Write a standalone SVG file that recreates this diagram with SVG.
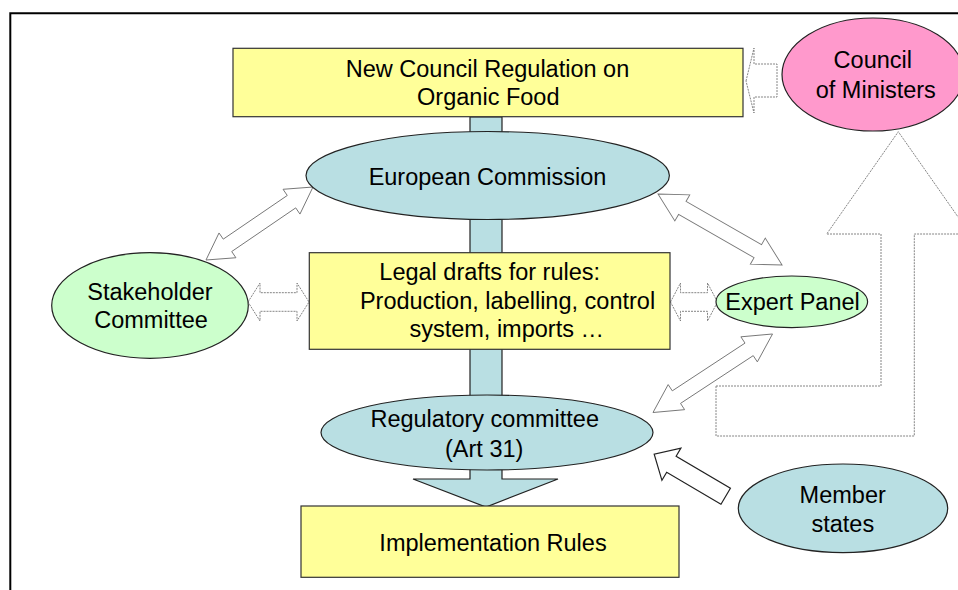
<svg xmlns="http://www.w3.org/2000/svg" width="958" height="590" viewBox="0 0 958 590">
<style>
  text { font-family: "Liberation Sans", Arial, sans-serif; font-size: 23.5px; fill: #000; text-anchor: middle; }
  .yel { fill: #FFFF99; stroke: #333; stroke-width: 1.2; }
  .blue { fill: #B9DFE3; stroke: #222; stroke-width: 1.2; }
  .green { fill: #CCFFCC; stroke: #222; stroke-width: 1.2; }
  .pink { fill: #FF99CC; stroke: #222; stroke-width: 1.2; }
  .dbl { fill: #fff; stroke: #777; stroke-width: 0.9; }
  .dash { fill: #fff; stroke: #777; stroke-width: 0.9; stroke-dasharray: 2 1; }
  .solid { fill: #fff; stroke: #222; stroke-width: 1.2; }
</style>
<rect x="0" y="0" width="958" height="590" fill="#fff"/>
<path d="M10.3,592 V13.2 H960" fill="none" stroke="#000" stroke-width="2"/>

<g id="connectors">
  <path id="main-flow" class="blue" d="M470,117 V479 H413 L486,507 L558,479 H502 V117 Z"/>
  <path id="council-to-regulation" class="dash" d="M746,81 L754,48 L754,64 L777,64 L777,97 L754,97 L754,113 Z"/>
  <path id="member-states-to-council" class="dash" d="M716,386 L881,386 L881,234 L826.7,234 L898.3,131.7 L970,234 L914.3,234 L914.3,436 L716,436 Z"/>
  <path id="stakeholder-commission" class="dbl" transform="translate(206,260) rotate(-34.3)" d="M0,0 L26,-15 L26,-7.5 L103.5,-7.5 L103.5,-15 L129.5,0 L103.5,15 L103.5,7.5 L26,7.5 L26,15 Z"/>
  <path id="stakeholder-drafts" class="dash" transform="translate(248,302)" d="M0,0 L12,-19 L12,-9.3 L49,-9.3 L49,-19 L61,0 L49,19 L49,9.3 L12,9.3 L12,19 Z"/>
  <path id="drafts-expert" class="dash" transform="translate(670.5,302)" d="M0,0 L10,-19 L10,-9.3 L37,-9.3 L37,-19 L47,0 L37,19 L37,9.3 L10,9.3 L10,19 Z"/>
  <path id="commission-expert" class="dbl" transform="translate(658,194) rotate(29.8)" d="M0,0 L28,-15 L28,-7.5 L115,-7.5 L115,-15 L143,0 L115,15 L115,7.5 L28,7.5 L28,15 Z"/>
  <path id="regulatory-expert" class="dbl" transform="translate(653,412.5) rotate(-33.3)" d="M0,0 L28,-15 L28,-7.5 L115,-7.5 L115,-15 L143,0 L115,15 L115,7.5 L28,7.5 L28,15 Z"/>
  <path id="member-to-regulatory" class="solid" transform="translate(725.7,496.2) rotate(-149.5)" d="M0,-9.3 L63,-9.3 L63,-18.7 L83,0 L63,18.7 L63,9.3 L0,9.3 Z"/>
</g>

<g id="new-council-regulation">
  <rect class="yel" x="233" y="48.3" width="510" height="68.4"/>
  <text x="487.5" y="77">New Council Regulation on</text>
  <text x="488.3" y="105">Organic Food</text>
</g>
<g id="council-of-ministers">
  <ellipse class="pink" cx="873" cy="74.5" rx="91" ry="56.5"/>
  <text x="872.8" y="68.3">Council</text>
  <text x="875.8" y="98.3">of Ministers</text>
</g>
<g id="european-commission">
  <ellipse class="blue" cx="487.7" cy="175.5" rx="181.7" ry="44"/>
  <text x="487.5" y="185">European Commission</text>
</g>
<g id="stakeholder-committee">
  <ellipse class="green" cx="150" cy="305.5" rx="98.3" ry="52.8"/>
  <text x="150" y="300">Stakeholder</text>
  <text x="151" y="328.3">Committee</text>
</g>
<g id="legal-drafts">
  <rect class="yel" x="309.3" y="252.7" width="360.7" height="96.6"/>
  <text x="489.7" y="280">Legal drafts for rules:</text>
  <text x="507.5" y="309.3">Production, labelling, control</text>
  <text x="506.7" y="337.3">system, imports …</text>
</g>
<g id="expert-panel">
  <ellipse class="green" cx="791.8" cy="301.8" rx="75.8" ry="25.8"/>
  <text x="792.5" y="310">Expert Panel</text>
</g>
<g id="regulatory-committee">
  <ellipse class="blue" cx="487" cy="432.5" rx="166" ry="37.5"/>
  <text x="484.7" y="426.7">Regulatory committee</text>
  <text x="484.2" y="456.7">(Art 31)</text>
</g>
<g id="implementation-rules">
  <rect class="yel" x="301" y="506" width="378" height="71.3"/>
  <text x="493" y="550.7">Implementation Rules</text>
</g>
<g id="member-states">
  <ellipse class="blue" cx="843" cy="508.3" rx="104.7" ry="44.3"/>
  <text x="842.7" y="503.3">Member</text>
  <text x="842.8" y="531.7">states</text>
</g>
</svg>
